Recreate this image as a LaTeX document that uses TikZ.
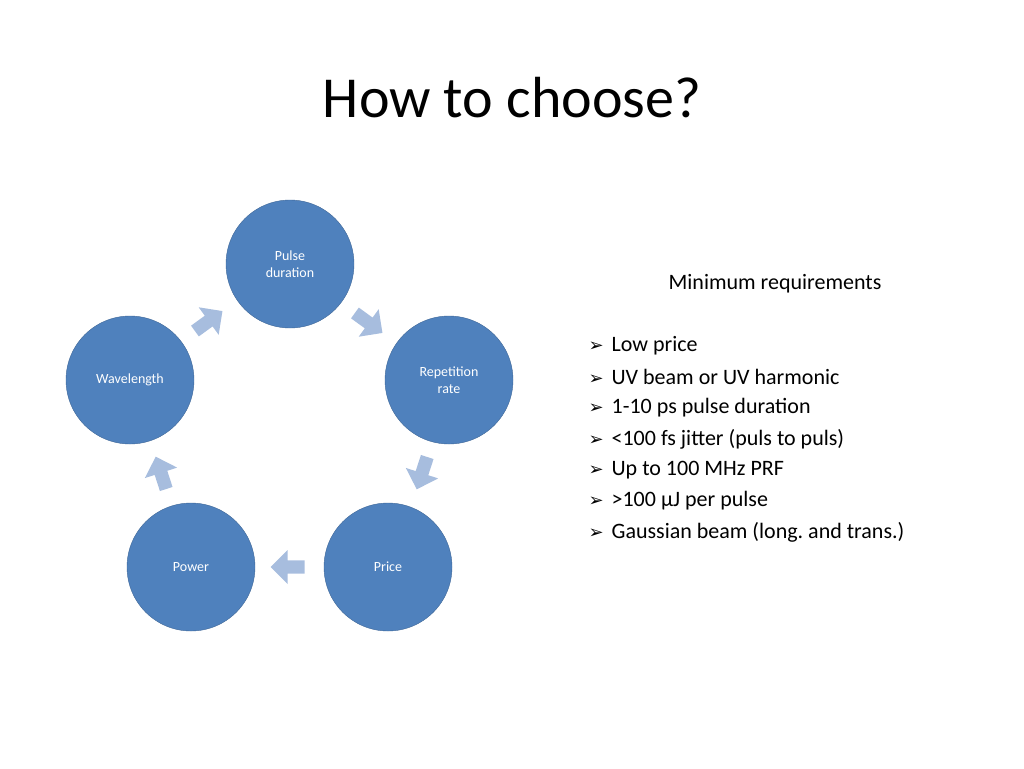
\documentclass[tikz,border=0pt]{standalone}
\usepackage{fontspec}
\setmainfont{Carlito}
\newfontfamily\symfont{DejaVu Sans}
\usetikzlibrary{shapes.arrows}
\definecolor{circblue}{HTML}{4F81BD}
\definecolor{arrblue}{HTML}{A7BDDE}
\tikzset{main node/.style={circle,fill=circblue,draw=circblue!80!black,minimum size=128pt,inner sep=0pt,text=white,font=\fontsize{14}{17}\selectfont,align=center},
  flow arrow/.style={single arrow,fill=arrblue,draw=none,minimum width=34pt,minimum height=34pt,single arrow head extend=5pt,inner sep=3pt},
  req/.style={anchor=west,font=\fontsize{22}{26}\selectfont}}
\begin{document}
\begin{tikzpicture}[x=1pt,y=-1pt]
    \useasboundingbox (0,0) rectangle (1024,768);
    \node (title) at (512,98) {\fontsize{58}{66}\selectfont How to choose?};

    \node[main node] (1) at (290,264) {Pulse\\duration};
    \node[main node] (2) at (449,380) {Repetition\\rate};
    \node[main node] (3) at (388,567) {Price};
    \node[main node] (4) at (191,567) {Power};
    \node[main node] (5) at (130,380) {Wavelength};

    \node[flow arrow,rotate=-36] (a1) at (366,321) {};
    \node[flow arrow,rotate=-108] (a2) at (423,470) {};
    \node[flow arrow,rotate=180] (a3) at (291,567) {};
    \node[flow arrow,rotate=108] (a4) at (162,476) {};
    \node[flow arrow,rotate=36] (a5) at (206,323) {};

    \node (head) at (775,284) {\fontsize{22}{26}\selectfont Minimum requirements};
    \foreach \txt [count=\i] in {Low price,UV beam or UV harmonic,1-10 ps pulse duration,{<100 fs jitter (puls to puls)},Up to 100 MHz PRF,{>100 µJ per pulse},{Gaussian beam (long.\ and trans.)}}
      \node[req] (r\i) at (585,315+31*\i) {{\symfont\fontsize{18}{22}\selectfont ➢}\hspace{8pt}\txt};
\end{tikzpicture}
\end{document}
